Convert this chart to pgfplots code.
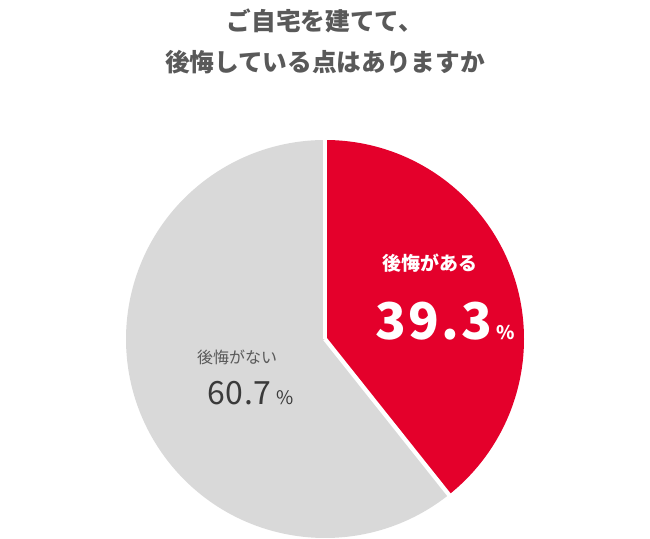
\documentclass[border=0pt]{standalone}
\usepackage{pgfplots}
\usepackage{pgfplotstable}
\pgfplotsset{compat=1.18}
\usepackage{fontspec}
\setmainfont{Noto Sans CJK JP}
\definecolor{pred}{HTML}{E4002B}
\definecolor{pgray}{HTML}{D9D9D9}
\definecolor{tgray}{HTML}{595959}
\definecolor{dgray}{HTML}{3A3A3A}
\pgfplotstableread{
label value
ari 39.3
nashi 60.7
}\piedata
\pgfplotstablegetelem{0}{value}\of\piedata
\let\valA\pgfplotsretval
\begin{document}
\begin{tikzpicture}
\pgfmathsetmacro{\angA}{90-3.6*\valA}
\begin{axis}[
  hide axis, scale only axis, clip=false,
  width=487.5pt, height=404.25pt,
  xmin=0, xmax=650, ymin=0, ymax=539,
]
\fill[pred] (axis cs:325,200) -- (axis cs:325,399) arc[start angle=90, end angle=\angA, radius=149.25pt] -- cycle;
\fill[pgray] (axis cs:325,200) -- ++(\angA:149.25pt) arc[start angle=\angA, end angle=-270, radius=149.25pt] -- cycle;
\draw[white, line width=3.2pt] (axis cs:325,200) -- ++(90:151pt);
\draw[white, line width=3.2pt] (axis cs:325,200) -- ++(\angA:151pt);
\node[tgray, font=\bfseries\fontsize{18.5}{20}\selectfont] at (axis cs:325,518) {ご自宅を建てて、};
\node[tgray, font=\bfseries\fontsize{18.5}{20}\selectfont] at (axis cs:325,477) {後悔している点はありますか};
\node[white, font=\bfseries\fontsize{14.2}{16}\selectfont] at (axis cs:430,276) {後悔がある};
\node[white, font=\bfseries\fontsize{38}{40}\selectfont, anchor=base west, inner sep=0pt] at (axis cs:375,199) {\addfontfeature{LetterSpace=4.5}39.3\hspace{3pt}{\fontsize{14}{16}\selectfont\%}};
\node[tgray, font=\fontsize{12}{14}\selectfont] at (axis cs:237,182) {後悔がない};
\node[dgray, font=\fontsize{24}{26}\selectfont, anchor=base west, inner sep=0pt] at (axis cs:207,134) {\addfontfeature{LetterSpace=2}60.7\hspace{4pt}{\fontsize{14}{15}\selectfont\%}};
\end{axis}
\pgfresetboundingbox
\useasboundingbox (current axis.south west) rectangle (current axis.north east);
\end{tikzpicture}
\end{document}
